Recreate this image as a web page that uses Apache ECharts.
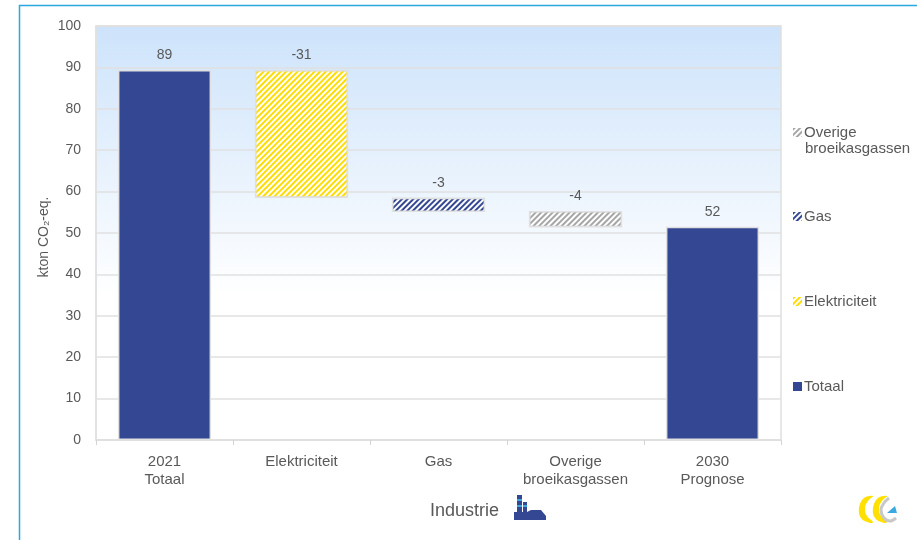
<!DOCTYPE html>
<html>
<head>
<meta charset="utf-8">
<style>html,body{margin:0;padding:0;background:#fff}#c{width:917px;height:540px}</style>
<script src="https://cdn.jsdelivr.net/npm/echarts@6/dist/echarts.min.js"></script>
</head>
<body>
<div id="c"></div>
<script>
var categories = ['2021\nTotaal', 'Elektriciteit', 'Gas', 'Overige\nbroeikasgassen', '2030\nPrognose'];
var yTicks = [0, 10, 20, 30, 40, 50, 60, 70, 80, 90, 100];
var baseValues = [0, 58.5, 55.1, 51.4, 0];
var totaal = [89.4, null, null, null, 51.5];
var elektriciteit = [null, 30.9, null, null, null];
var gas = [null, null, 3.4, null, null];
var overige = [null, null, null, 3.9, null];
var barLabels = ['89', '-31', '-3', '-4', '52'];

var textColor = '#595959';
var fontFamily = '"Liberation Sans", Arial, sans-serif';
var edge = '#e0e0e0';

function hatch(color, on, off) {
  return { color: color, symbol: 'rect', dashArrayX: [1, 0], dashArrayY: [on, off], rotation: -Math.PI / 4, symbolSize: 1 };
}
function labelFor() {
  return {
    show: true, position: 'top', distance: 8, color: textColor, fontSize: 14, fontFamily: fontFamily,
    formatter: function (p) { return barLabels[p.dataIndex]; }
  };
}
function barSeries(name, data, fill, decal) {
  var style = { color: fill, borderColor: edge, borderWidth: 1.5 };
  if (decal) style.decal = decal;
  return { name: name, type: 'bar', stack: 'w', data: data, barWidth: '68%', itemStyle: style, label: labelFor(), emphasis: { disabled: true }, animation: false };
}
function legendAt(name, top) {
  return {
    orient: 'vertical', left: 793, top: top, padding: 0, itemWidth: 9, itemHeight: 9, icon: 'rect',
    selectedMode: false, data: [name],
    itemStyle: { borderWidth: 0 },
    formatter: function (n) { return n === 'Overige broeikasgassen' ? 'Overige' : n; },
    textStyle: { color: textColor, fontSize: 15, fontFamily: fontFamily, lineHeight: 17, padding: [0, 0, 0, -3] }
  };
}

var chart = echarts.init(document.getElementById('c'), null, { renderer: 'canvas' });
chart.setOption({
  animation: false,
  backgroundColor: '#ffffff',
  aria: { enabled: false },
  title: {
    text: 'Industrie', left: 425, top: 497,
    textStyle: { color: textColor, fontSize: 18, fontWeight: 'normal', fontFamily: fontFamily }
  },
  grid: {
    left: 96, top: 26, width: 685, height: 414, show: true, borderColor: edge, borderWidth: 1.5,
    backgroundColor: new echarts.graphic.LinearGradient(0, 0, 0, 1, [
      { offset: 0, color: '#cde3fb' }, { offset: 0.65, color: '#ffffff' }, { offset: 1, color: '#ffffff' }
    ])
  },
  legend: [
    legendAt('Overige broeikasgassen', 124),
    legendAt('Gas', 208),
    legendAt('Elektriciteit', 293),
    legendAt('Totaal', 378)
  ],
  xAxis: {
    type: 'category', data: categories,
    axisLine: { lineStyle: { color: edge, width: 1.5 } },
    axisTick: { show: true, alignWithLabel: false, length: 5, lineStyle: { color: '#d4d4d4' } },
    axisLabel: { color: textColor, fontSize: 15, fontFamily: fontFamily, lineHeight: 18, margin: 13, interval: 0 }
  },
  yAxis: {
    type: 'value', min: 0, max: 100, interval: 10,
    name: 'kton CO₂-eq.', nameLocation: 'middle', nameGap: 45, nameRotate: 90, nameMoveOverlap: false,
    nameTextStyle: { color: textColor, fontSize: 14, fontFamily: fontFamily, padding: [0, 8, 0, 0] },
    axisLine: { show: true, lineStyle: { color: edge, width: 1.5 } },
    axisTick: { show: false },
    axisLabel: { color: textColor, fontSize: 14, fontFamily: fontFamily, margin: 15,
      formatter: function (v) { return yTicks.indexOf(v) >= 0 ? String(v) : ''; } },
    splitLine: { show: true, lineStyle: { color: edge, width: 1.5 } }
  },
  series: [
    { name: 'base', type: 'bar', stack: 'w', data: baseValues, barWidth: '68%', itemStyle: { color: 'transparent' }, silent: true, animation: false },
    barSeries('Totaal', totaal, '#344793'),
    barSeries('Elektriciteit', elektriciteit, '#ffffff', hatch('#ffdc00', 1.8, 1.2)),
    barSeries('Gas', gas, '#ffffff', hatch('#344793', 1.6, 1.4)),
    barSeries('Overige broeikasgassen', overige, '#ffffff', hatch('#a6a6a6', 1.6, 1.4))
  ],
  graphic: [
    // second line of the first legend entry
    { type: 'text', silent: true, x: 805, y: 141, style: { text: 'broeikasgassen', fill: textColor, font: '15px ' + fontFamily } },
    // outer frame
    { type: 'polyline', silent: true, shape: { points: [[19.5, 540], [19.5, 5.5], [917, 5.5]] }, style: { stroke: '#2aa8e0', lineWidth: 1.5, fill: null } },
    // factory icon
    { type: 'polygon', silent: true, shape: { points: [[514, 520], [514, 512], [517, 512], [517, 495], [522, 495], [522, 512], [523, 512], [523, 502], [527, 502], [527, 512], [531, 510], [541, 510], [546, 516], [546, 520]] }, style: { fill: '#344793' } },
    { type: 'rect', silent: true, shape: { x: 517, y: 499, width: 5, height: 2 }, style: { fill: '#39a9e0' } },
    { type: 'rect', silent: true, shape: { x: 517, y: 505, width: 5, height: 2 }, style: { fill: '#39a9e0' } },
    { type: 'rect', silent: true, shape: { x: 523, y: 505, width: 4, height: 2 }, style: { fill: '#39a9e0' } },
    // logo
    { type: 'polygon', silent: true, shape: { smooth: 0.4, points: [[873, 496], [864, 498], [859, 508], [861, 518], [870, 523], [873, 522], [867, 516], [865, 508], [868, 501]] }, style: { fill: '#ffe000' } },
    { type: 'polygon', silent: true, shape: { smooth: 0.4, points: [[887, 496], [878, 498], [873, 508], [875, 518], [884, 523], [887, 522], [881, 516], [879, 508], [882, 501]] }, style: { fill: '#ffe000' } },
    { type: 'polyline', silent: true, shape: { smooth: 0.4, points: [[889, 498], [884, 503], [881, 510], [884, 518], [890, 521], [896, 518]] }, style: { stroke: '#c8c8c8', lineWidth: 3, fill: null } },
    { type: 'polygon', silent: true, shape: { points: [[887, 513], [897, 513], [895, 506]] }, style: { fill: '#39a9e0' } }
  ]
});
</script>
</body>
</html>
